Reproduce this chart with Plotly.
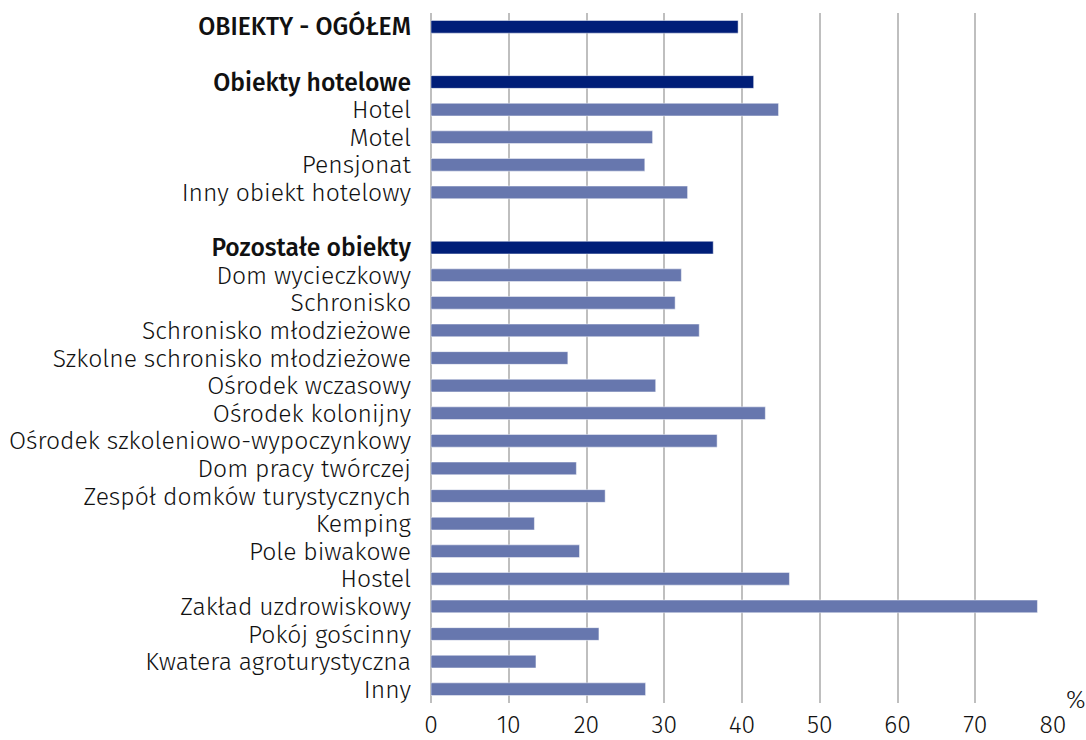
import plotly.graph_objects as go

categories = [
    "OBIEKTY - OGÓŁEM", "", "Obiekty hotelowe", "Hotel", "Motel", "Pensjonat",
    "Inny obiekt hotelowy", " ", "Pozostałe obiekty", "Dom wycieczkowy", "Schronisko",
    "Schronisko młodzieżowe", "Szkolne schronisko młodzieżowe", "Ośrodek wczasowy",
    "Ośrodek kolonijny", "Ośrodek szkoleniowo-wypoczynkowy", "Dom pracy twórczej",
    "Zespół domków turystycznych", "Kemping", "Pole biwakowe", "Hostel",
    "Zakład uzdrowiskowy", "Pokój gościnny", "Kwatera agroturystyczna", "Inny",
]
values = [
    39.5, None, 41.5, 44.7, 28.5, 27.5, 33.0, None, 36.3, 32.2, 31.4, 34.5, 17.6,
    28.9, 43.0, 36.8, 18.7, 22.4, 13.3, 19.1, 46.1, 78.0, 21.6, 13.5, 27.6,
]
headers = {"OBIEKTY - OGÓŁEM", "Obiekty hotelowe", "Pozostałe obiekty"}
x_ticks = [0, 10, 20, 30, 40, 50, 60, 70, 80]

DARK = "#001E78"
LIGHT = "#6777AE"
colors = [DARK if c in headers else LIGHT for c in categories]
ticktext = [
    f'<span style="font-family:Fira Sans Medium, Fira Sans;font-weight:500">{c}</span>'
    if c in headers else c
    for c in categories
]

fig = go.Figure(go.Bar(
    x=values, y=categories, orientation="h",
    marker=dict(color=colors, line=dict(color="rgba(255,255,255,0.6)", width=0.8)),
    width=0.46,
))

FONT = "Fira Sans Light, Fira Sans, Noto Sans, sans-serif"
TXT = "#111111"
SIZE = 24.7
fig.update_layout(
    width=1086, height=740,
    margin=dict(l=431, r=33, t=13, b=37, autoexpand=False),
    paper_bgcolor="white", plot_bgcolor="white",
    showlegend=False,
    font=dict(family=FONT, size=SIZE, color=TXT, weight=300),
)
fig.update_yaxes(
    type="category", categoryorder="array", categoryarray=categories,
    tickvals=categories, ticktext=ticktext,
    autorange="reversed", showgrid=False, zeroline=False, showline=False,
    ticks="", ticklabelstandoff=19, automargin=False,
    tickfont=dict(family=FONT, size=SIZE, color=TXT, weight=300),
)
fig.update_xaxes(
    range=[0, 80], tickvals=x_ticks, showgrid=True, gridcolor="#BFBFBF", gridwidth=1.6,
    zeroline=True, zerolinecolor="#BFBFBF", zerolinewidth=1.6, showline=False,
    ticks="", ticklabelstandoff=4, automargin=False,
    tickfont=dict(family=FONT, size=SIZE, color=TXT, weight=300),
)
fig.add_annotation(
    text="%", xref="paper", yref="paper", x=1.0, y=0.0, xanchor="center", yanchor="middle",
    xshift=23, yshift=3, showarrow=False,
    font=dict(family=FONT, size=SIZE, color=TXT, weight=300),
)
fig.write_html(
    "out.html",
    config={"displayModeBar": False},
    post_script="document.body.style.margin='0px';document.body.style.overflow='hidden';",
)
